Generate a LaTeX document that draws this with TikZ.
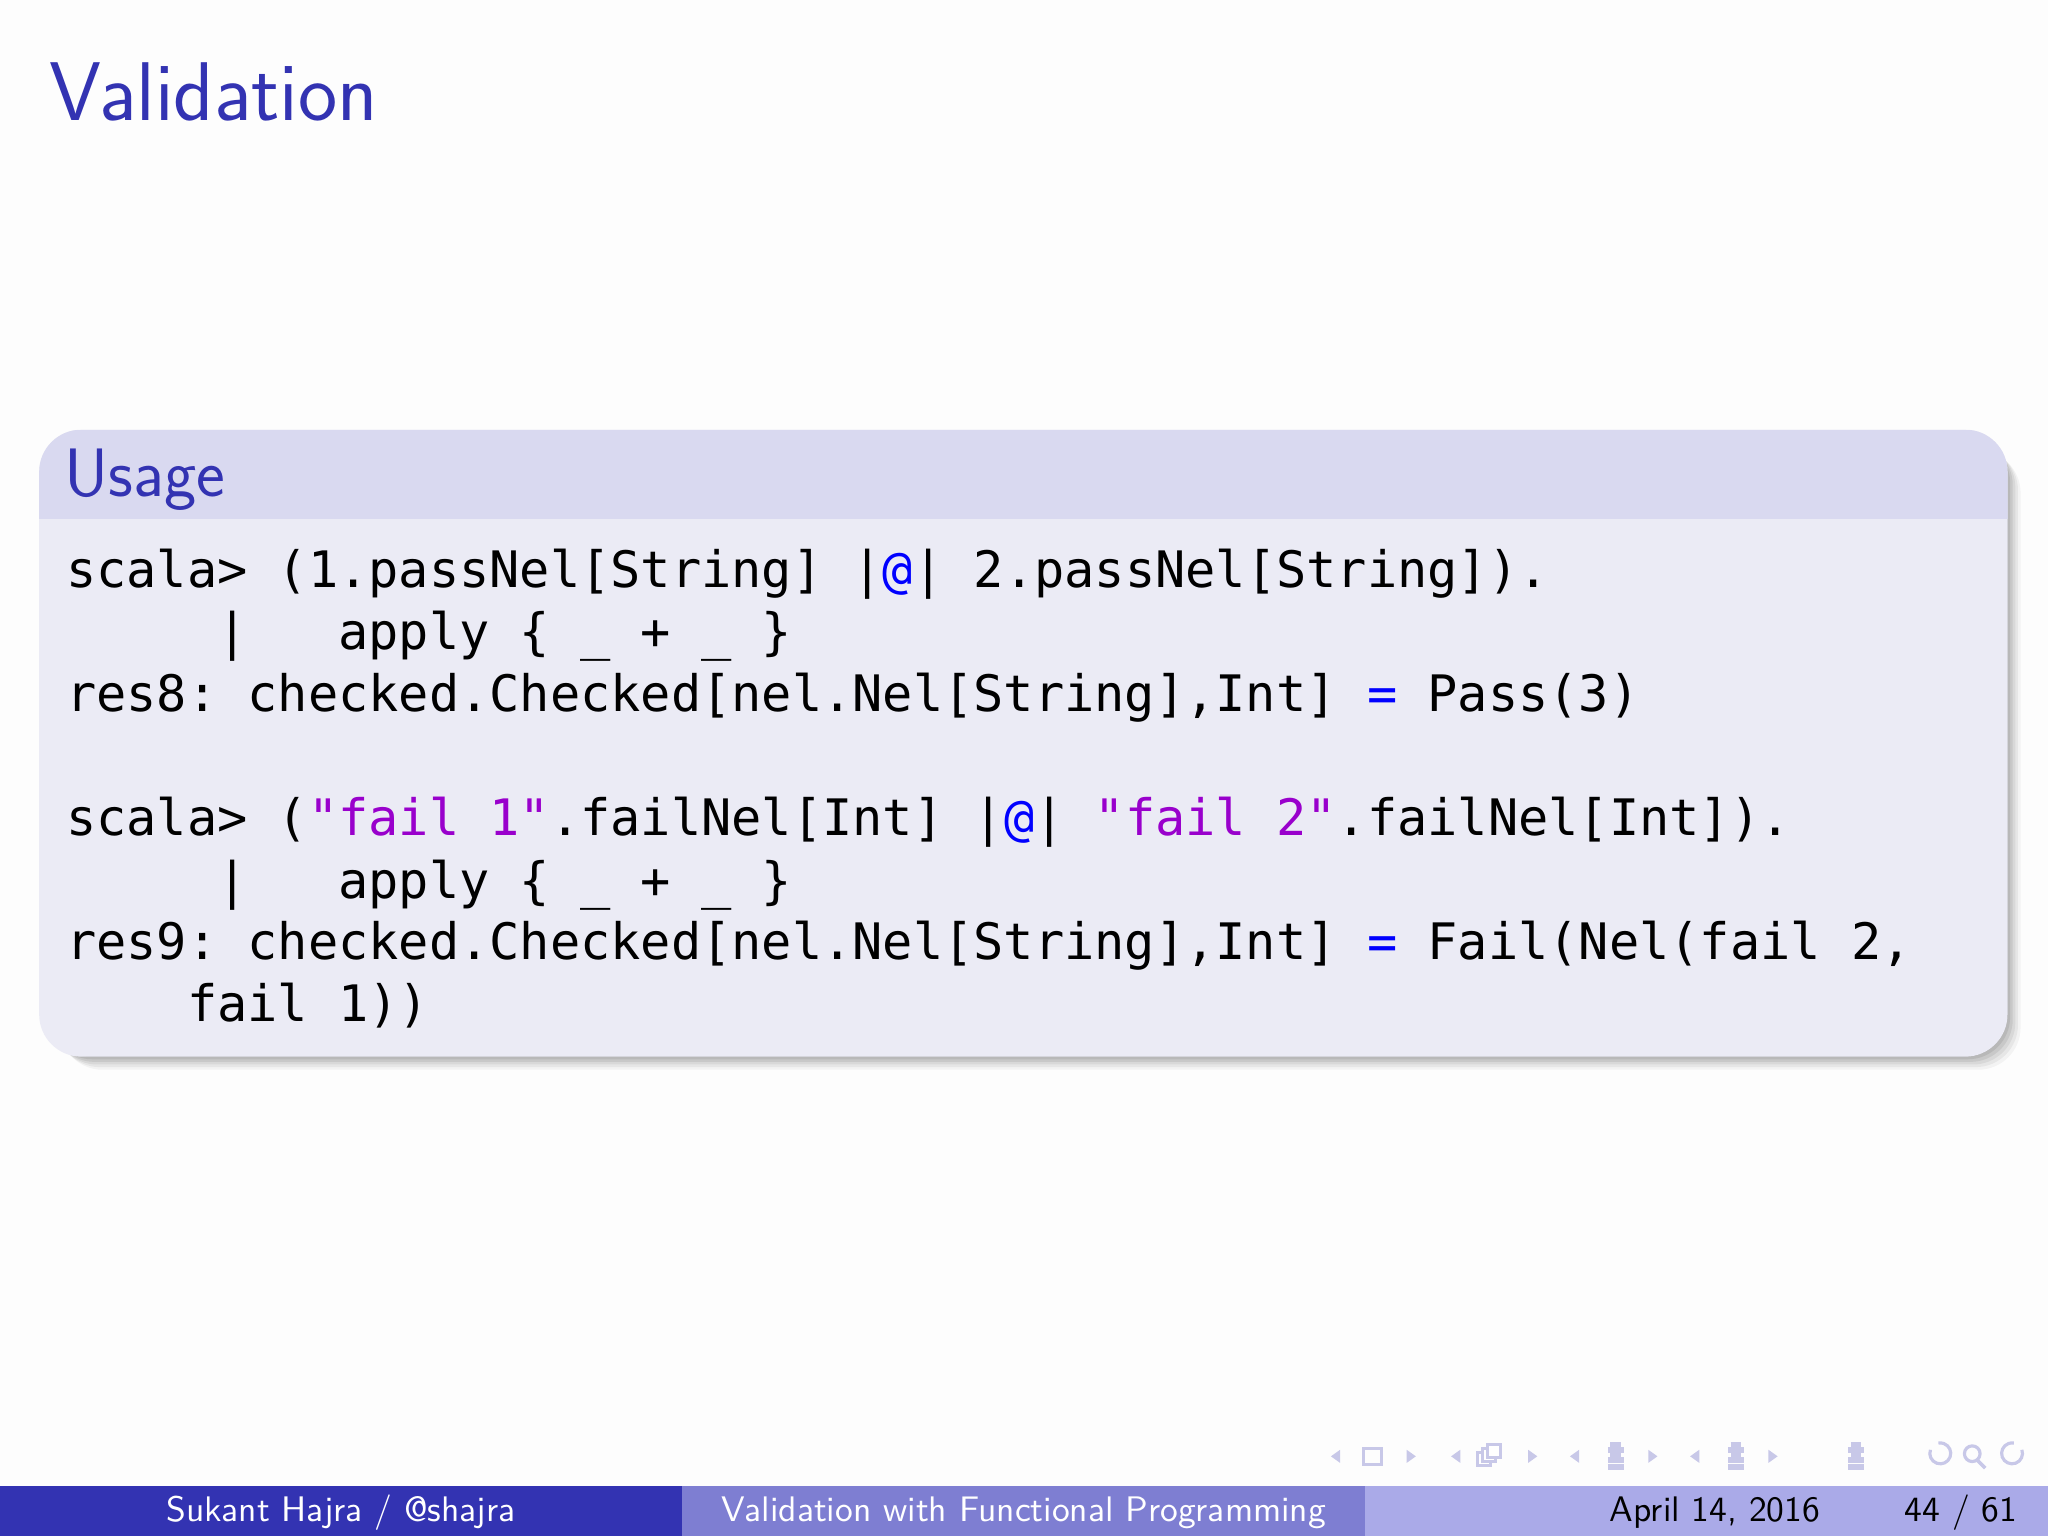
\documentclass[tikz,border=0pt]{standalone}
\usepackage{fontspec}
\newfontfamily\codefont{DejaVu Sans Mono}
\definecolor{struct}{RGB}{51,51,178}
\definecolor{hdr}{RGB}{217,217,240}
\definecolor{bdy}{RGB}{235,235,245}
\definecolor{atc}{RGB}{0,0,255}
\definecolor{strc}{RGB}{153,0,204}
\definecolor{fa}{RGB}{51,51,178}
\definecolor{fb}{RGB}{126,126,210}
\definecolor{fc}{RGB}{170,170,232}
\definecolor{nav}{RGB}{200,200,232}
\tikzset{code/.style={anchor=base west,inner sep=0pt,font=\codefont\frenchspacing\fontsize{14.3}{17}\selectfont},
foot/.style={anchor=base,inner sep=0pt,font=\sffamily\fontsize{10.1}{12}\selectfont}}
\newcommand{\At}{\textcolor{atc}{@}}
\newcommand{\Eq}{\textcolor{atc}{=}}
\begin{document}
\begin{tikzpicture}[x=0.013061cm,y=-0.013061cm]
\useasboundingbox (0,0) rectangle (1568,1176);
\fill[white!97!gray!60] (0,0) rectangle (1568,1176);
\node[anchor=base west,inner sep=0pt,text=struct,font=\sffamily\fontsize{23.7}{28}\selectfont] (title) at (37,92) {Validation};
% shadow
\foreach \o/\op in {12/0.04,10/0.05,8/0.06,6/0.07,4/0.08,2/0.08}{
\fill[black,opacity=\op,rounded corners=12] (38+\o-4,337+\o-4) rectangle (1535+\o,807+\o);}
\fill[bdy,rounded corners=12] (30,329) rectangle (1537,809);
\begin{scope}
\clip[rounded corners=12] (30,329) rectangle (1537,809);
\fill[hdr] (30,329) rectangle (1537,397);
\end{scope}
\node[anchor=base west,inner sep=0pt,text=struct,font=\sffamily\fontsize{19.5}{23}\selectfont] (usage) at (49,380) {Usage};
\node[code] (l1) at (50,450) {scala> (1.passNel[String] |\At| 2.passNel[String]).};
\node[code] (l2) at (50,497) {\ \ \ \ \ |\ \ \ apply \{ \_ + \_ \}};
\node[code] (l3) at (50,545) {res8: checked.Checked[nel.Nel[String],Int] \Eq{} Pass(3)};
\node[code] (l4) at (50,640) {scala> (\textcolor{strc}{"fail 1"}.failNel[Int] |\At| \textcolor{strc}{"fail 2"}.failNel[Int]).};
\node[code] (l5) at (50,688) {\ \ \ \ \ |\ \ \ apply \{ \_ + \_ \}};
\node[code] (l6) at (50,735) {res9: checked.Checked[nel.Nel[String],Int] \Eq{} Fail(Nel(fail 2,};
\node[code] (l7) at (50,782) {\ \ \ \ fail 1))};
% footer
\fill[fa] (0,1138) rectangle (522,1176);
\fill[fb] (522,1138) rectangle (1045,1176);
\fill[fc] (1045,1138) rectangle (1568,1176);
\node[foot,text=white] (fauthor) at (261,1165) {Sukant Hajra / @shajra};
\node[foot,text=white] (ftitle) at (784,1165) {Validation with Functional Programming};
\node[foot,text=black] (fdate) at (1313,1165) {April 14, 2016};
\node[foot,text=black,anchor=base east] (fpage) at (1545,1165) {44 / 61};
% nav symbols
\begin{scope}[draw=nav,fill=nav]
\foreach \x in {1023,1115,1206,1298}{\fill (\x-4,1115) -- (\x+3,1110) -- (\x+3,1120) -- cycle;}
\foreach \x in {1080,1173,1265,1357}{\fill (\x+4,1115) -- (\x-3,1110) -- (\x-3,1120) -- cycle;}
\draw[line width=0.8] (1044,1109) rectangle (1058,1121);
\fill[white,draw=nav,line width=0.8] (1131,1112) rectangle (1141,1122);
\fill[white,draw=nav,line width=0.8] (1135,1109) rectangle (1145,1119);
\fill[white,draw=nav,line width=0.8] (1139,1106) rectangle (1149,1116);
\foreach \x in {1237,1329,1421}{\foreach \yy/\w in {1106/4,1110/6,1114/4,1118/6,1123/6}{\draw[line width=1.6] (\x-\w,\yy) -- (\x+\w,\yy);}}
\draw[line width=0.9] (1478,1110) arc (200:-100:8);
\draw[line width=0.9] (1510,1113) circle (6); \draw[line width=1] (1514,1118) -- (1520,1124);
\draw[line width=0.9] (1548,1110) arc (-20:280:8);
\end{scope}
\end{tikzpicture}
\end{document}
